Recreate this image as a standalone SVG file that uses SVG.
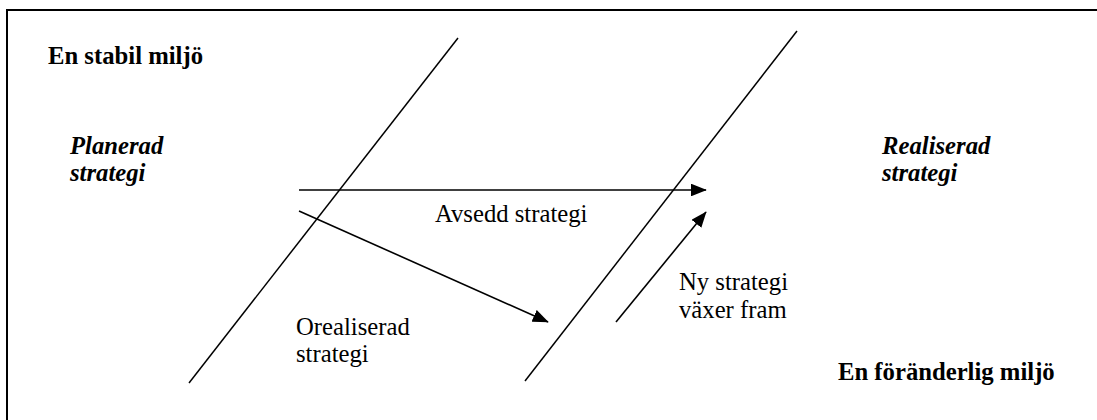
<svg xmlns="http://www.w3.org/2000/svg" width="1097" height="420" viewBox="0 0 1097 420">
<style>
.t{font-family:"Liberation Serif","Times New Roman",serif;font-size:24.7px;fill:#000}
.b{font-weight:bold}
.bi{font-weight:bold;font-style:italic}
.ln{stroke:#000;stroke-width:1.5;fill:none}
.ar{stroke:#000;stroke-width:1.6;fill:none;marker-end:url(#ah)}
</style>
<defs>
<marker id="ah" markerWidth="10" markerHeight="8" refX="9.5" refY="4" orient="auto" markerUnits="strokeWidth">
<path d="M0,0 L10,4 L0,8 Z" fill="#000"/>
</marker>
</defs>
<rect x="7" y="10" width="1100" height="420" fill="#fff" stroke="#000" stroke-width="2"/>
<g id="boundaries">
<line class="ln" x1="458" y1="38" x2="189" y2="383"/>
<line class="ln" x1="797" y1="31" x2="525" y2="381"/>
</g>
<g id="connectors">
<line class="ar" x1="299" y1="190" x2="706" y2="190"/>
<line class="ar" x1="299" y1="211" x2="548" y2="322"/>
<line class="ar" x1="616" y1="322" x2="706" y2="212"/>
</g>
<g id="stabil"><text class="t b" x="48" y="64">En stabil miljö</text></g>
<g id="planerad"><text class="t bi" x="70" y="154">Planerad</text><text class="t bi" x="70" y="181">strategi</text></g>
<g id="realiserad"><text class="t bi" x="882" y="154">Realiserad</text><text class="t bi" x="882" y="181">strategi</text></g>
<g id="avsedd"><text class="t" x="435" y="222">Avsedd strategi</text></g>
<g id="orealiserad"><text class="t" x="296" y="335">Orealiserad</text><text class="t" x="296" y="362">strategi</text></g>
<g id="ny"><text class="t" x="679" y="290">Ny strategi</text><text class="t" x="679" y="318">växer fram</text></g>
<g id="foranderlig"><text class="t b" x="838" y="380">En föränderlig miljö</text></g>
</svg>
